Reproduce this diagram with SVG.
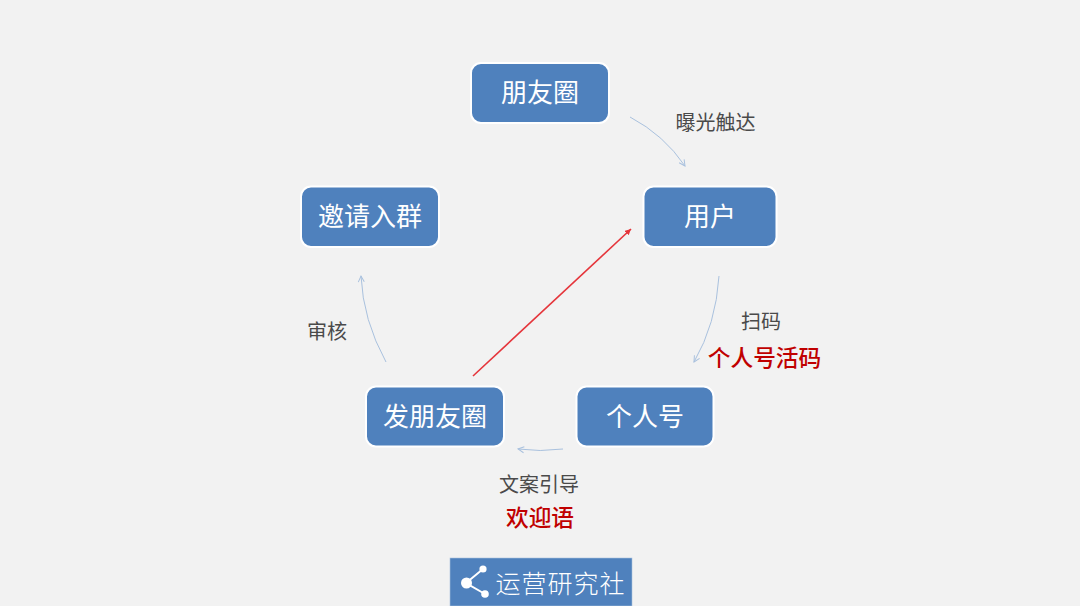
<svg xmlns="http://www.w3.org/2000/svg" width="1080" height="606" viewBox="0 0 1080 606">
<style>
text{font-family:"Noto Sans CJK SC","Noto Sans",sans-serif;text-anchor:middle}
.box{fill:#4f81bd;stroke:#fff;stroke-width:2}
.nt{fill:#fff;font-size:26px}
.gt{fill:#4a4a4a;font-size:20px}
.rt{fill:#c00000;font-size:22.700px;font-weight:500}
.c{fill:none;stroke:#a9c1de;stroke-width:1;marker-end:url(#ab)}
</style>
<defs>
<marker id="ab" markerUnits="userSpaceOnUse" markerWidth="10" markerHeight="10" refX="7" refY="4" orient="auto"><path d="M1 1L7 4L1 7" fill="none" stroke="#a9c1de" stroke-width="1"/></marker>
<marker id="ar" markerUnits="userSpaceOnUse" markerWidth="8" markerHeight="8" refX="6" refY="3" orient="auto"><path d="M0 0L6 3L0 6Z" fill="#e5353b"/></marker>
</defs>
<rect width="1080" height="606" fill="#f2f2f2"/>
<g id="connectors">
<path class="c" d="M630 117Q664 135 685 166"/>
<path class="c" d="M719 276Q716 324 694 362"/>
<path class="c" d="M563 449Q540 452 518 449"/>
<path class="c" d="M386 362Q363 320 361 276"/>
<path d="M473 376L631 229" fill="none" stroke="#e5353b" stroke-width="1.600" marker-end="url(#ar)"/>
</g>
<g id="node-pengyouquan"><rect class="box" x="471" y="63" width="138" height="60" rx="10"/><text class="nt" x="540" y="102">朋友圈</text></g>
<g id="node-yonghu"><rect class="box" x="643.500" y="186.500" width="133" height="60.500" rx="10"/><text class="nt" x="710" y="226">用户</text></g>
<g id="node-gerenhao"><rect class="box" x="576.500" y="386.500" width="137" height="60" rx="10"/><text class="nt" x="645" y="426">个人号</text></g>
<g id="node-fapengyouquan"><rect class="box" x="366" y="386.500" width="138" height="60" rx="10"/><text class="nt" x="435" y="426">发朋友圈</text></g>
<g id="node-yaoqing"><rect class="box" x="301" y="186.500" width="138" height="60.500" rx="10"/><text class="nt" x="370" y="226">邀请入群</text></g>
<g id="labels">
<text class="gt" x="715.500" y="130">曝光触达</text>
<text class="gt" x="761" y="329">扫码</text>
<text class="rt" x="764.500" y="366">个人号活码</text>
<text class="gt" x="539" y="492">文案引导</text>
<text class="rt" x="540" y="526">欢迎语</text>
<text class="gt" x="327" y="339">审核</text>
</g>
<g id="logo">
<rect x="450" y="558" width="182" height="48" fill="#4f81bd" stroke="#a9c1de" stroke-width="0.6"/>
<path d="M483 569L466 583L485 594" fill="none" stroke="#fff" stroke-width="2"/>
<circle cx="483" cy="569" r="3.600" fill="#fff"/><circle cx="466.500" cy="583" r="5.500" fill="#fff"/><circle cx="485" cy="594" r="3.800" fill="#fff"/>
<text x="560.500" y="593" fill="#fff" font-size="25" letter-spacing="1" style="font-weight:300">运营研究社</text>
</g>
</svg>
